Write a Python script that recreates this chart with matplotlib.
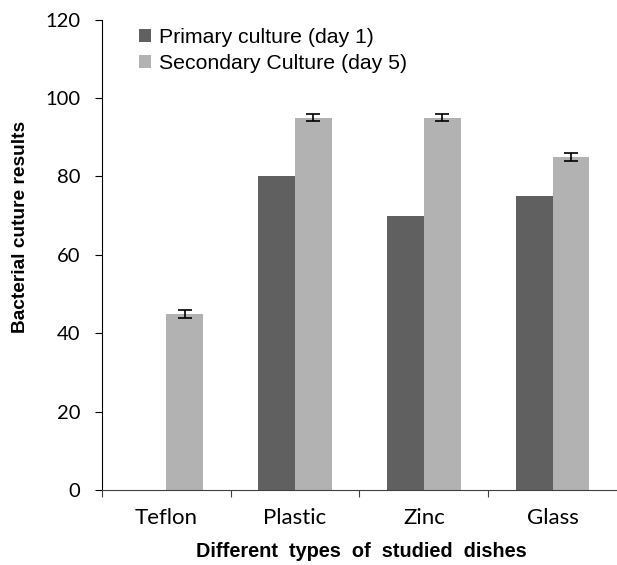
import matplotlib.pyplot as plt
import numpy as np

plt.rcParams['font.family'] = ['Liberation Sans', 'DejaVu Sans']

dishes = ['Teflon', 'Plastic', 'Zinc', 'Glass']
primary = [0, 80, 70, 75]
secondary = [45, 95, 95, 85]
secondary_err = [1, 1, 1, 1]

fig = plt.figure(figsize=(6.17, 5.65), dpi=100)
ax = fig.add_axes([0.1653, 0.1327, 0.8347, 0.8327])

x = np.arange(len(dishes))
w = 0.285
ax.bar(x - w / 2, primary, w, color='#606060', label='Primary culture (day 1)')
ax.bar(x + w / 2, secondary, w, color='#b2b2b2', label='Secondary Culture (day 5)',
       yerr=secondary_err, error_kw=dict(ecolor='black', capsize=4.7, elinewidth=1.2, capthick=1.2))

ax.set_xlim(-0.5, 3.5)
ax.set_ylim(0, 120)
ax.set_yticks(range(0, 121, 20))
ax.tick_params(axis='y', length=5, direction='out', pad=10.5)
for t in ax.get_yticklabels():
    t.set_fontfamily('Lato')
    t.set_fontsize(14.5)

ax.set_xticks(np.arange(-0.5, 3.0, 1.0))
ax.set_xticklabels([])
ax.tick_params(axis='x', which='major', length=5, direction='out', color='#404040')
ax.set_xticks(x, minor=True)
ax.set_xticklabels(dishes, minor=True, fontfamily='Lato', fontsize=16)
ax.tick_params(axis='x', which='minor', length=0, pad=13)

ax.spines['top'].set_visible(False)
ax.spines['right'].set_visible(False)
ax.spines['bottom'].set_color('#404040')

ax.set_xlabel('Different  types  of  studied  dishes', fontsize=14.3, fontweight='bold')
ax.xaxis.set_label_coords(0.504, -0.1095)
ax.set_ylabel('Bacterial cuture results', fontsize=13.8, fontweight='bold')
ax.yaxis.set_label_coords(-0.141, 0.559)

ax.legend(loc='upper left', bbox_to_anchor=(0.055, 1.0), frameon=False, fontsize=15.3,
          handlelength=0.56, handleheight=0.56, handletextpad=0.38, labelspacing=0.33,
          borderaxespad=0)

fig.savefig('out.png')
